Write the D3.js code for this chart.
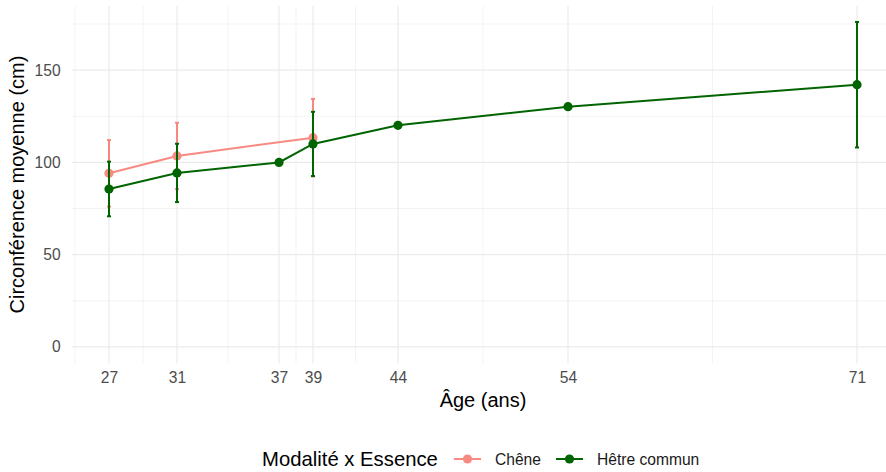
<!DOCTYPE html>
<html>
<head>
<meta charset="utf-8">
<script src="https://cdn.jsdelivr.net/npm/d3@7"></script>
<style>
  body { margin: 0; background: white; }
  text { font-family: "Liberation Sans", Arial, sans-serif; }
</style>
</head>
<body>
<div id="chart"></div>
<script>
// data
var series_names = ["Chêne", "Hêtre commun"];
var ages_chene = [27, 31, 39];
var circ_chene = [94.1, 103.5, 113.4];
var err_chene = [18, 18, 21];
var ages_hetre = [27, 31, 37, 39, 44, 54, 71];
var circ_hetre = [85.6, 94.3, 100, 110, 120.1, 130.2, 142.1];
var err_hetre = [14.8, 15.8, null, 17.4, null, null, 34];
var x_breaks = [27, 31, 37, 39, 44, 54, 71];
var y_breaks = [0, 50, 100, 150];
var y_minor = [25, 75, 125, 175];
var colors = ["#F8766D", "#006400"];

var width = 886, height = 472;
var panel = {left: 71.6, right: 894.4, top: 5.9, bottom: 363.2};
var tickColor = "#4d4d4d";
var gridColor = "#ebebeb";

var svg = d3.select("#chart").append("svg")
    .attr("width", width)
    .attr("height", height);

var x = d3.scaleLinear().domain([24.8, 73.2]).range([panel.left, panel.right]);
var y = d3.scaleLinear().domain([-8.8, 184.8]).range([panel.bottom, panel.top]);

// minor x breaks: midpoints between majors, plus one step before the first
var x_minor = [x_breaks[0] - (x_breaks[1] - x_breaks[0]) / 2];
for (var i = 0; i < x_breaks.length - 1; i++) {
  x_minor.push((x_breaks[i] + x_breaks[i + 1]) / 2);
}

// grid
var grid = svg.append("g");
grid.selectAll(".ymin").data(y_minor).enter().append("line")
    .attr("x1", panel.left).attr("x2", panel.right)
    .attr("y1", function(d) { return y(d); }).attr("y2", function(d) { return y(d); })
    .style("stroke", gridColor).style("stroke-width", 0.6);
grid.selectAll(".xmin").data(x_minor).enter().append("line")
    .attr("y1", panel.top).attr("y2", panel.bottom)
    .attr("x1", function(d) { return x(d); }).attr("x2", function(d) { return x(d); })
    .style("stroke", gridColor).style("stroke-width", 0.6);
grid.selectAll(".ymaj").data(y_breaks).enter().append("line")
    .attr("x1", panel.left).attr("x2", panel.right)
    .attr("y1", function(d) { return y(d); }).attr("y2", function(d) { return y(d); })
    .style("stroke", gridColor).style("stroke-width", 1.2);
grid.selectAll(".xmaj").data(x_breaks).enter().append("line")
    .attr("y1", panel.top).attr("y2", panel.bottom)
    .attr("x1", function(d) { return x(d); }).attr("x2", function(d) { return x(d); })
    .style("stroke", gridColor).style("stroke-width", 1.2);

// axes (labels only, no lines or ticks)
var xAxis = svg.append("g")
    .attr("transform", "translate(0," + panel.bottom + ")")
    .call(d3.axisBottom(x).tickValues(x_breaks).tickSize(0).tickPadding(9));
var yAxis = svg.append("g")
    .attr("transform", "translate(" + panel.left + ",0)")
    .call(d3.axisLeft(y).tickValues(y_breaks).tickSize(0).tickPadding(11));
svg.selectAll(".domain").remove();
svg.selectAll(".tick text")
    .style("fill", tickColor)
    .style("font-size", "15.6px")
    .style("font-family", "'Liberation Sans', Arial, sans-serif");
xAxis.selectAll(".tick text").attr("dy", "0.71em").attr("y", 9);

// series
var groups = [
  {ages: ages_chene, circ: circ_chene, err: err_chene},
  {ages: ages_hetre, circ: circ_hetre, err: err_hetre}
];

var line = d3.line()
    .x(function(d) { return x(d.age); })
    .y(function(d) { return y(d.circ); });

groups.forEach(function(g, k) {
  var pts = g.ages.map(function(a, j) { return {age: a, circ: g.circ[j], err: g.err[j]}; });
  var layer = svg.append("g").style("opacity", k === 0 ? 0.85 : 1);

  layer.append("path")
      .datum(pts)
      .attr("d", line)
      .style("fill", "none")
      .style("stroke", colors[k])
      .style("stroke-width", 2);

  layer.selectAll("circle")
      .data(pts).enter().append("circle")
      .attr("cx", function(d) { return x(d.age); })
      .attr("cy", function(d) { return y(d.circ); })
      .attr("r", 4.6)
      .style("fill", colors[k]);

  var bars = pts.filter(function(d) { return d.err !== null; });
  var eb = layer.selectAll(".eb").data(bars).enter().append("g");
  eb.append("line")
      .attr("x1", function(d) { return x(d.age); }).attr("x2", function(d) { return x(d.age); })
      .attr("y1", function(d) { return y(d.circ - d.err); })
      .attr("y2", function(d) { return y(d.circ + d.err); })
      .style("stroke", colors[k]).style("stroke-width", 2);
  [-1, 1].forEach(function(s) {
    eb.append("line")
        .attr("x1", function(d) { return x(d.age - 0.12); })
        .attr("x2", function(d) { return x(d.age + 0.12); })
        .attr("y1", function(d) { return y(d.circ + s * d.err); })
        .attr("y2", function(d) { return y(d.circ + s * d.err); })
        .style("stroke", colors[k]).style("stroke-width", 2);
  });
});

// axis titles
svg.append("text")
    .attr("x", (panel.left + panel.right) / 2)
    .attr("y", 407)
    .attr("text-anchor", "middle")
    .style("font-size", "20px")
    .style("fill", "black")
    .text("Âge (ans)");

svg.append("text")
    .attr("transform", "translate(24," + ((panel.top + panel.bottom) / 2) + ") rotate(-90)")
    .attr("text-anchor", "middle")
    .style("font-size", "20px")
    .style("fill", "black")
    .text("Circonférence moyenne (cm)");

// legend
var legend = svg.append("g");
legend.append("text")
    .attr("x", 262).attr("y", 466)
    .style("font-size", "20.3px")
    .style("fill", "black")
    .text("Modalité x Essence");

var keyX = [454, 556];
var labelX = [495, 597];
series_names.forEach(function(name, k) {
  var key = legend.append("g").style("opacity", k === 0 ? 0.85 : 1);
  key.append("line")
      .attr("x1", keyX[k]).attr("x2", keyX[k] + 27)
      .attr("y1", 459).attr("y2", 459)
      .style("stroke", colors[k]).style("stroke-width", 2);
  key.append("circle")
      .attr("cx", keyX[k] + 13.5).attr("cy", 459).attr("r", 4.6)
      .style("fill", colors[k]);
  legend.append("text")
      .attr("x", labelX[k]).attr("y", 465)
      .style("font-size", "15.6px")
      .style("fill", "#1a1a1a")
      .text(name);
});
</script>
</body>
</html>
